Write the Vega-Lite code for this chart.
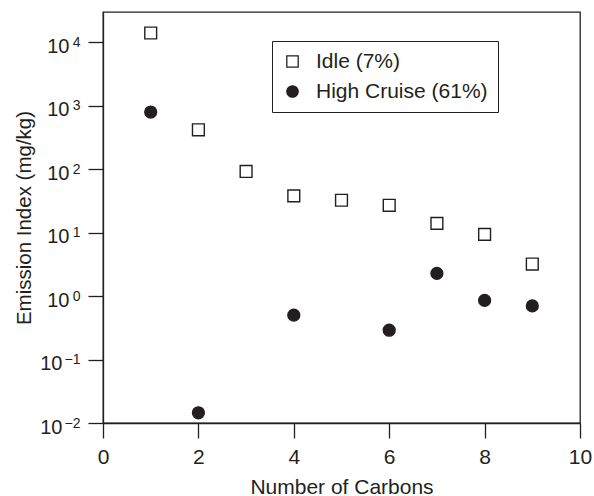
{
  "$schema": "https://vega.github.io/schema/vega-lite/v6.json",
  "autosize": {"type": "none"},
  "padding": {"left": 103, "top": 12, "right": 14, "bottom": 73},
  "width": 477,
  "height": 411,
  "background": "white",
  "config": {
    "font": "Liberation Sans",
    "view": {"stroke": "#231f20", "strokeWidth": 1.3},
    "axis": {
      "grid": false,
      "labelFlush": false,
      "labelOverlap": false,
      "domainColor": "#231f20",
      "domainWidth": 1.3,
      "tickColor": "#231f20",
      "tickWidth": 1.3,
      "tickSize": 15,
      "labelColor": "#231f20",
      "titleColor": "#231f20",
      "labelFont": "Liberation Sans",
      "titleFont": "Liberation Sans",
      "labelFontSize": 21,
      "titleFontSize": 21,
      "titleFontWeight": "normal"
    },
    "legend": {
      "orient": "none",
      "legendX": 169,
      "legendY": 29,
      "strokeColor": "#231f20",
      "padding": 10,
      "rowPadding": 8,
      "labelFontSize": 21,
      "labelFont": "Liberation Sans",
      "labelColor": "#231f20",
      "labelOffset": 13,
      "labelLimit": 300,
      "symbolSize": 130,
      "symbolStrokeWidth": 1.3,
      "symbolStrokeColor": "#231f20"
    }
  },
  "resolve": {"axis": {"y": "independent"}},
  "layer": [
    {
      "data": {
        "values": [
          {"carbons": 1, "ei": 14000, "mode": "Idle (7%)"},
          {"carbons": 2, "ei": 418, "mode": "Idle (7%)"},
          {"carbons": 3, "ei": 92, "mode": "Idle (7%)"},
          {"carbons": 4, "ei": 38, "mode": "Idle (7%)"},
          {"carbons": 5, "ei": 32.4, "mode": "Idle (7%)"},
          {"carbons": 6, "ei": 27, "mode": "Idle (7%)"},
          {"carbons": 7, "ei": 14, "mode": "Idle (7%)"},
          {"carbons": 8, "ei": 9.4, "mode": "Idle (7%)"},
          {"carbons": 9, "ei": 3.2, "mode": "Idle (7%)"},
          {"carbons": 1, "ei": 795, "mode": "High Cruise (61%)"},
          {"carbons": 2, "ei": 0.0145, "mode": "High Cruise (61%)"},
          {"carbons": 4, "ei": 0.5, "mode": "High Cruise (61%)"},
          {"carbons": 6, "ei": 0.29, "mode": "High Cruise (61%)"},
          {"carbons": 7, "ei": 2.28, "mode": "High Cruise (61%)"},
          {"carbons": 8, "ei": 0.855, "mode": "High Cruise (61%)"},
          {"carbons": 9, "ei": 0.7, "mode": "High Cruise (61%)"}
        ]
      },
      "mark": {"type": "point", "filled": true, "strokeWidth": 1.4, "opacity": 1, "fillOpacity": 1, "strokeOpacity": 1, "size": 140},
      "encoding": {
        "x": {
          "field": "carbons",
          "type": "quantitative",
          "scale": {"domain": [0, 10], "nice": false},
          "axis": {"values": [0, 2, 4, 6, 8, 10], "title": "Number of Carbons", "labelPadding": 8, "titleFontSize": 21, "titlePadding": 9}
        },
        "y": {
          "field": "ei",
          "type": "quantitative",
          "scale": {"type": "log", "domain": [0.01, 30000], "nice": false},
          "axis": {
            "orient": "left",
            "values": [0.01, 0.1, 1, 10, 100, 1000, 10000],
            "labelExpr": "datum.value < 0.5 ? '' : '10'",
            "labelFontSize": 20,
            "labelOffset": 4,
            "labelPadding": 19,
            "title": "Emission Index (mg/kg)",
            "titleFontSize": 20.5,
            "titlePadding": 12
          }
        },
        "shape": {
          "field": "mode",
          "type": "nominal",
          "scale": {"domain": ["Idle (7%)", "High Cruise (61%)"], "range": ["square", "circle"]},
          "legend": {"title": null}
        },
        "fill": {
          "field": "mode",
          "type": "nominal",
          "scale": {"domain": ["Idle (7%)", "High Cruise (61%)"], "range": ["#ffffff", "#231f20"]},
          "legend": {"title": null}
        },
        "stroke": {
          "field": "mode",
          "type": "nominal",
          "scale": {"domain": ["Idle (7%)", "High Cruise (61%)"], "range": ["#231f20", "#231f20"]},
          "legend": {"title": null}
        }
      }
    },
    {
      "data": {"values": []},
      "mark": {"type": "point"},
      "encoding": {
        "y": {
          "field": "ei",
          "type": "quantitative",
          "axis": {
            "orient": "left",
            "values": [0.01, 0.1, 1, 10, 100, 1000, 10000],
            "labelExpr": "datum.value < 0.5 ? '10' : ''",
            "labelFontSize": 20,
            "labelOffset": 4,
            "labelPadding": 26,
            "domain": false,
            "tickOpacity": 0,
            "title": null
          }
        }
      }
    },
    {
      "data": {"values": []},
      "mark": {"type": "point"},
      "encoding": {
        "y": {
          "field": "ei",
          "type": "quantitative",
          "axis": {
            "orient": "left",
            "values": [0.01, 0.1, 1, 10, 100, 1000, 10000],
            "labelExpr": "datum.value < 0.05 ? '−2' : datum.value < 0.5 ? '−1' : datum.value < 5 ? '0' : datum.value < 50 ? '1' : datum.value < 500 ? '2' : datum.value < 5000 ? '3' : '4'",
            "labelFontSize": 14,
            "labelOffset": 0,
            "labelPadding": 8,
            "domain": false,
            "tickOpacity": 0,
            "title": null
          }
        }
      }
    }
  ]
}
